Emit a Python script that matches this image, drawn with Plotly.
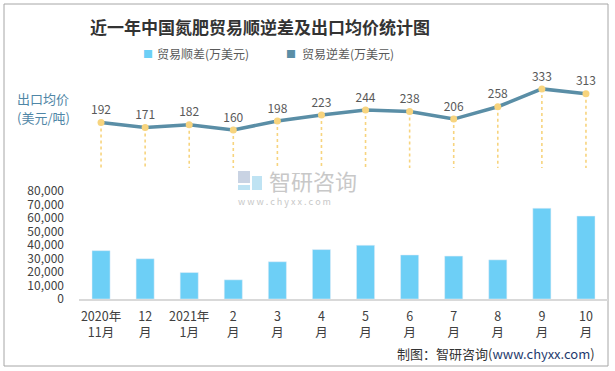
import plotly.graph_objects as go

categories = ["2020年<br>11月", "12<br>月", "2021年<br>1月", "2<br>月", "3<br>月", "4<br>月",
              "5<br>月", "6<br>月", "7<br>月", "8<br>月", "9<br>月", "10<br>月"]
surplus = [35800, 29800, 19600, 14200, 27600, 36600, 39800, 32600, 31800, 29000, 67200, 61400]
price = [192, 171, 182, 160, 198, 223, 244, 238, 206, 258, 333, 313]
bar_ticks = [0, 10000, 20000, 30000, 40000, 50000, 60000, 70000, 80000]

W, H = 615, 371
L, R, T, B = 79, 608, 73, 299

def px(x):
    return (x - L) / (R - L)

def py(y):
    return (B - y) / (B - T)

FONT = "Noto Sans CJK SC, Microsoft YaHei, sans-serif"
BAR_C = "#6dcff6"
LINE_C = "#5a8ea6"
GOLD = "#f7d47e"

fig = go.Figure()
fig.add_trace(go.Bar(x=categories, y=surplus, marker_color=BAR_C, width=0.41,
                     xaxis="x", yaxis="y", showlegend=False, hoverinfo="skip"))

# drop lines from each price point to zero
dx, dy = [], []
for c, v in zip(categories, price):
    dx += [c, c, None]
    dy += [v, 0, None]
fig.add_trace(go.Scatter(x=dx, y=dy, mode="lines", xaxis="x", yaxis="y2",
                         line=dict(color=GOLD, width=1.6, dash="dot"),
                         showlegend=False, hoverinfo="skip"))
fig.add_trace(go.Scatter(x=categories, y=price, mode="lines+markers+text", xaxis="x", yaxis="y2",
                         line=dict(color=LINE_C, width=3.5),
                         marker=dict(color=GOLD, size=7),
                         text=[str(v) for v in price], textposition="top center",
                         textfont=dict(size=12, color="#595959", family=FONT),
                         showlegend=False, hoverinfo="skip", cliponaxis=False))

fig.update_layout(
    width=W, height=H,
    margin=dict(l=L, r=W - R, t=T, b=H - B, autoexpand=False),
    showlegend=False,
    paper_bgcolor="white", plot_bgcolor="white",
    font=dict(family=FONT, size=12, color="#404040"),
    xaxis=dict(showgrid=False, showline=True, linecolor="#d9d9d9", linewidth=1.5,
               range=[-0.5, len(categories) - 0.5],
               ticks="", tickfont=dict(size=12.5, color="#404040"), fixedrange=True,
               ticklabelstandoff=5, automargin=False),
    yaxis=dict(domain=[0, py(191)], range=[0, 80000], tickvals=bar_ticks, tickformat=",",
               showgrid=False, zeroline=False, ticks="", ticklabelstandoff=14,
               tickfont=dict(size=12, color="#404040"), automargin=False),
    yaxis2=dict(domain=[py(168), 1], range=[0, 400], visible=False, anchor="x", automargin=False),
    bargap=0.59,
)

def note(x, y, text, size, color, xanchor="center", **kw):
    return dict(x=px(x), y=py(y), xref="paper", yref="paper", text=text, showarrow=False,
                xanchor=xanchor, yanchor="middle", font=dict(size=size, color=color, **kw))

ann = [
    note(260, 27, "<b>近一年中国氮肥贸易顺逆差及出口均价统计图</b>", 17, "#333333", family=FONT),
    note(147.5, 53, "■", 10, BAR_C),
    note(155, 53, "贸易顺差(万美元)", 12, "#595959", xanchor="left"),
    note(291, 53, "■", 10, LINE_C),
    note(300, 53, "贸易逆差(万美元)", 12, "#595959", xanchor="left"),
    note(15, 99, "出口均价", 13, "#4f86a6", xanchor="left"),
    note(15, 117, "(美元/吨)", 13, "#4f86a6", xanchor="left"),
    note(267, 180, "智研咨询", 22, "#c8c8c8", xanchor="left"),
    note(236, 201, "w w w . c h y x x . c o m", 9, "#c8c8c8", xanchor="left"),
    note(597, 353, "制图：智研咨询(<span style='color:#1f3b6e'>www.chyxx.com</span>)", 13, "#333333",
         xanchor="right"),
]
fig.update_layout(annotations=ann)

shapes = []
# border
shapes.append(dict(type="rect", xref="paper", yref="paper", x0=px(4), x1=px(608), y0=py(366), y1=py(4),
                   line=dict(color="#a6a6a6", width=1), layer="below"))
# watermark logo
shapes.append(dict(type="rect", xref="paper", yref="paper", x0=px(238), x1=px(250), y0=py(183), y1=py(171),
                   line=dict(width=0), fillcolor="#c9d3e3", layer="below"))
shapes.append(dict(type="rect", xref="paper", yref="paper", x0=px(252), x1=px(262), y0=py(190), y1=py(176),
                   line=dict(width=0), fillcolor="#bfe3f3", layer="below"))
shapes.append(dict(type="rect", xref="paper", yref="paper", x0=px(238), x1=px(250), y0=py(190), y1=py(185),
                   line=dict(width=0), fillcolor="#bfe3f3", layer="below"))
fig.update_layout(shapes=shapes)

fig.write_html("out.html", config={"displayModeBar": False},
               post_script="document.body.style.margin='0';document.body.style.overflow='hidden';")
